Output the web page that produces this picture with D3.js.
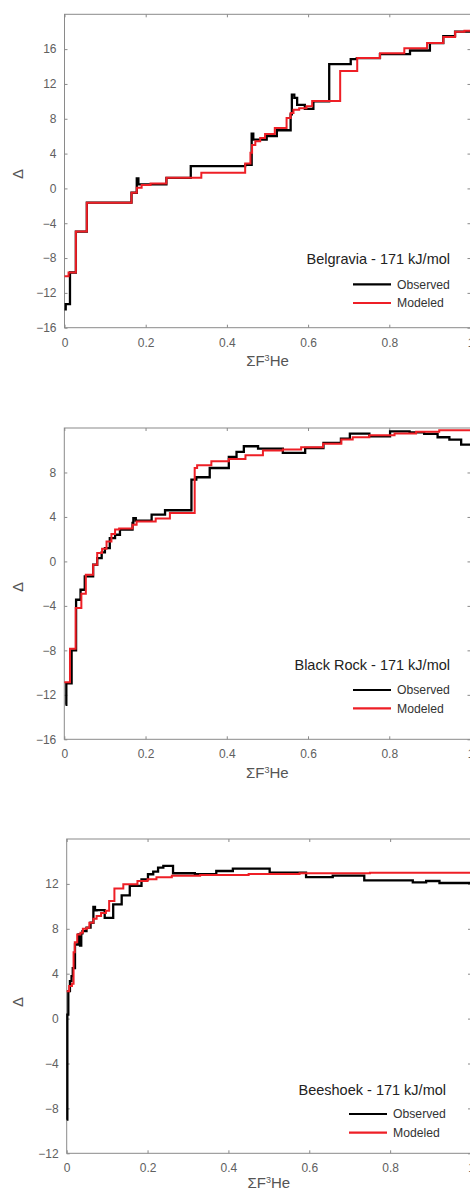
<!DOCTYPE html>
<html><head><meta charset="utf-8">
<script src="https://cdn.jsdelivr.net/npm/d3@7"></script>
<style>body{margin:0;background:#fff}svg{display:block}</style>
</head><body><svg id="c" width="470" height="1191"></svg>
<script>
// ---------- data ----------
const xTicks = [0, 0.2, 0.4, 0.6, 0.8, 1];
const belgraviaYTicks = [-16, -12, -8, -4, 0, 4, 8, 12, 16];
const blackRockYTicks = [-16, -12, -8, -4, 0, 4, 8];
const beeshoekYTicks = [-12, -8, -4, 0, 4, 8, 12];
const seriesNames = ["Observed", "Modeled"];
const panelTitles = ["Belgravia - 171 kJ/mol", "Black Rock - 171 kJ/mol", "Beeshoek - 171 kJ/mol"];

const belgraviaObsX = [0, 0.003, 0.0135, 0.028, 0.055, 0.165, 0.178, 0.182, 0.251, 0.311, 0.445, 0.461, 0.465, 0.498, 0.523, 0.557, 0.560, 0.566, 0.573, 0.592, 0.613, 0.652, 0.705, 0.72, 0.777, 0.851, 0.9, 0.933, 0.962, 1.0];
const belgraviaObsY = [-13.9, -13.3, -9.66, -4.96, -1.64, -0.5, 1.15, 0.46, 1.22, 2.55, 2.7, 6.3, 5.6, 6.0, 6.68, 8.5, 10.77, 10.4, 9.6, 9.13, 10.0, 14.28, 14.85, 14.97, 15.43, 15.84, 16.7, 17.5, 18.02, 18.02];
const belgraviaModX = [0, 0.01, 0.028, 0.055, 0.165, 0.178, 0.19, 0.212, 0.251, 0.337, 0.445, 0.458, 0.462, 0.47, 0.482, 0.494, 0.518, 0.547, 0.557, 0.564, 0.578, 0.596, 0.61, 0.679, 0.721, 0.777, 0.837, 0.893, 0.933, 0.962, 0.985, 1.0];
const belgraviaModY = [-10.1, -9.66, -4.96, -1.64, -0.5, 0.08, 0.38, 0.57, 1.22, 1.8, 2.86, 4.1, 5.0, 5.42, 5.8, 6.26, 6.95, 8.1, 8.67, 9.05, 9.2, 9.45, 10.05, 13.5, 14.97, 15.54, 16.1, 16.7, 17.4, 18.0, 18.1, 18.1];

const blackRockObsX = [0.003, 0.005, 0.018, 0.029, 0.040, 0.0504, 0.071, 0.081, 0.092, 0.1, 0.112, 0.125, 0.137, 0.168, 0.170, 0.176, 0.215, 0.248, 0.313, 0.325, 0.358, 0.405, 0.424, 0.442, 0.477, 0.538, 0.593, 0.638, 0.681, 0.703, 0.751, 0.802, 0.85, 0.886, 0.919, 0.948, 0.977, 1.0];
const blackRockObsY = [-12.9, -10.96, -8.0, -3.45, -2.55, -1.35, -0.3, 0.3, 0.81, 1.2, 2.1, 2.4, 2.86, 3.46, 3.9, 3.67, 4.2, 4.6, 7.36, 7.57, 8.4, 9.4, 9.85, 10.36, 10.15, 9.77, 10.2, 10.67, 11.05, 11.5, 11.26, 11.7, 11.6, 11.48, 11.17, 10.96, 10.5, 10.5];
const blackRockModX = [0, 0.014, 0.028, 0.042, 0.053, 0.071, 0.081, 0.093, 0.104, 0.116, 0.125, 0.135, 0.168, 0.178, 0.225, 0.26, 0.321, 0.327, 0.362, 0.405, 0.446, 0.489, 0.538, 0.583, 0.637, 0.682, 0.710, 0.751, 0.813, 0.866, 0.923, 1.0];
const blackRockModY = [-10.87, -7.86, -4.2, -2.9, -1.2, -0.3, 0.75, 1.14, 1.8, 2.47, 2.86, 2.95, 3.3, 3.6, 3.85, 4.36, 8.4, 8.65, 9.0, 9.22, 9.55, 9.97, 10.06, 10.27, 10.58, 10.96, 11.17, 11.35, 11.5, 11.66, 11.8, 11.85];

const beeshoekObsX = [0, 0.0016, 0.004, 0.008, 0.012, 0.015, 0.0205, 0.029, 0.033, 0.036, 0.039, 0.049, 0.059, 0.066, 0.070, 0.074, 0.094, 0.115, 0.136, 0.156, 0.185, 0.201, 0.214, 0.226, 0.239, 0.263, 0.317, 0.370, 0.411, 0.502, 0.592, 0.658, 0.736, 0.856, 0.889, 0.922, 1.0];
const beeshoekObsY = [-9.0, 0.36, 2.44, 3.33, 3.78, 4.5, 6.6, 7.5, 6.5, 7.6, 7.8, 8.1, 8.54, 9.94, 9.64, 9.67, 8.98, 10.18, 10.98, 11.82, 12.41, 12.86, 13.1, 13.45, 13.6, 12.95, 12.86, 13.15, 13.36, 13.0, 12.6, 12.74, 12.32, 12.14, 12.26, 12.08, 12.08];
const beeshoekModX = [0, 0.006, 0.013, 0.017, 0.02, 0.026, 0.034, 0.04, 0.05, 0.056, 0.066, 0.074, 0.085, 0.097, 0.105, 0.118, 0.14, 0.175, 0.2, 0.222, 0.26, 0.33, 0.45, 0.576, 0.75, 1.0];
const beeshoekModY = [2.44, 2.9, 3.1, 5.9, 6.8, 7.5, 7.65, 8.0, 8.1, 8.54, 8.9, 9.13, 9.4, 9.6, 10.47, 11.6, 11.96, 12.26, 12.41, 12.6, 12.72, 12.8, 12.88, 12.95, 13.0, 13.05];

// ---------- layout ----------
const layout = [
  {obsX: belgraviaObsX, obsY: belgraviaObsY, modX: belgraviaModX, modY: belgraviaModY, yTicks: belgraviaYTicks,
   yDomain: [-16, 20], left: 64.5, right: 470.5, top: 14.3, bottom: 327.7,
   titleX: 450, titleY: 264, leg1: 284.3, leg2: 303, legX0: 353, legX1: 391, legTX: 397, deltaY: 174, xlabY: 366, pad: 10.5},
  {obsX: blackRockObsX, obsY: blackRockObsY, modX: blackRockModX, modY: blackRockModY, yTicks: blackRockYTicks,
   yDomain: [-16, 12], left: 64.3, right: 470.5, top: 428, bottom: 739.3,
   titleX: 450, titleY: 670, leg1: 690, leg2: 708.3, legX0: 353, legX1: 391, legTX: 397, deltaY: 587, xlabY: 778, pad: 10},
  {obsX: beeshoekObsX, obsY: beeshoekObsY, modX: beeshoekModX, modY: beeshoekModY, yTicks: beeshoekYTicks,
   yDomain: [-12, 16], left: 66.7, right: 471, top: 839, bottom: 1153.3,
   titleX: 446, titleY: 1095, leg1: 1114, leg2: 1132.7, legX0: 349, legX1: 387, legTX: 393, deltaY: 1002, xlabY: 1188, pad: 10}
];

const svg = d3.select("#c");
const FONT = "'Liberation Sans', Arial, Helvetica, sans-serif";
const AX = "#8a8a8a";
const RED = "#ee1f26";
const fmt = d => (d === 0 ? "0" : d === 1 ? "1" : d3.format(".1f")(d));

layout.forEach((p, i) => {
  const x = d3.scaleLinear().domain([0, 1]).range([p.left, p.right]);
  const y = d3.scaleLinear().domain(p.yDomain).range([p.bottom, p.top]);
  const g = svg.append("g");

  // frame
  g.append("rect").attr("x", p.left).attr("y", p.top)
    .attr("width", p.right - p.left).attr("height", p.bottom - p.top)
    .attr("fill", "none").attr("stroke", AX).attr("stroke-width", 1);

  const styleAxis = sel => {
    sel.select(".domain").remove();
    sel.selectAll("line").attr("stroke", AX);
    sel.selectAll("text").attr("fill", "#606060").attr("font-family", FONT).attr("font-size", 12);
  };

  g.append("g").attr("transform", `translate(${p.left},0)`)
    .call(d3.axisLeft(y).tickValues(p.yTicks).tickSize(-3).tickPadding(8)).call(styleAxis);
  g.append("g").attr("transform", `translate(${p.right},0)`)
    .call(d3.axisRight(y).tickValues(p.yTicks).tickSize(-3).tickFormat("")).call(styleAxis);
  g.append("g").attr("transform", `translate(0,${p.bottom})`)
    .call(d3.axisBottom(x).tickValues(xTicks).tickSize(-3).tickPadding(p.pad).tickFormat(fmt)).call(styleAxis);
  g.append("g").attr("transform", `translate(0,${p.top})`)
    .call(d3.axisTop(x).tickValues(xTicks).tickSize(-3).tickFormat("")).call(styleAxis);

  const line = d3.line().x(d => x(d[0])).y(d => y(d[1])).curve(d3.curveStepAfter);
  const obs = p.obsX.map((v, k) => [v, p.obsY[k]]);
  const mod = p.modX.map((v, k) => [v, p.modY[k]]);
  g.append("path").datum(obs).attr("d", line).attr("fill", "none")
    .attr("stroke", "#000").attr("stroke-width", 2.3).attr("stroke-linejoin", "miter");
  g.append("path").datum(mod).attr("d", line).attr("fill", "none")
    .attr("stroke", RED).attr("stroke-width", 2).attr("stroke-linejoin", "miter");

  // axis labels
  g.append("text").attr("transform", `translate(23,${p.deltaY}) rotate(-90)`)
    .attr("text-anchor", "middle").attr("font-family", FONT).attr("font-size", 15)
    .attr("fill", "#555").text("Δ");
  const xl = g.append("text").attr("x", (p.left + p.right) / 2).attr("y", p.xlabY)
    .attr("text-anchor", "middle").attr("font-family", FONT).attr("font-size", 15).attr("fill", "#555");
  xl.append("tspan").text("ΣF");
  xl.append("tspan").attr("font-size", 9).attr("dy", -5).text("3");
  xl.append("tspan").attr("dy", 5).text("He");

  // legend
  g.append("text").attr("x", p.titleX).attr("y", p.titleY).attr("text-anchor", "end")
    .attr("font-family", FONT).attr("font-size", 14.5).attr("fill", "#222").text(panelTitles[i]);
  [[p.leg1, "#000", seriesNames[0]], [p.leg2, RED, seriesNames[1]]].forEach(([ly, c, t]) => {
    g.append("line").attr("x1", p.legX0).attr("x2", p.legX1).attr("y1", ly).attr("y2", ly)
      .attr("stroke", c).attr("stroke-width", 2.2);
    g.append("text").attr("x", p.legTX).attr("y", ly + 4.3).attr("font-family", FONT)
      .attr("font-size", 12.2).attr("fill", "#333").text(t);
  });
});
</script></body></html>
